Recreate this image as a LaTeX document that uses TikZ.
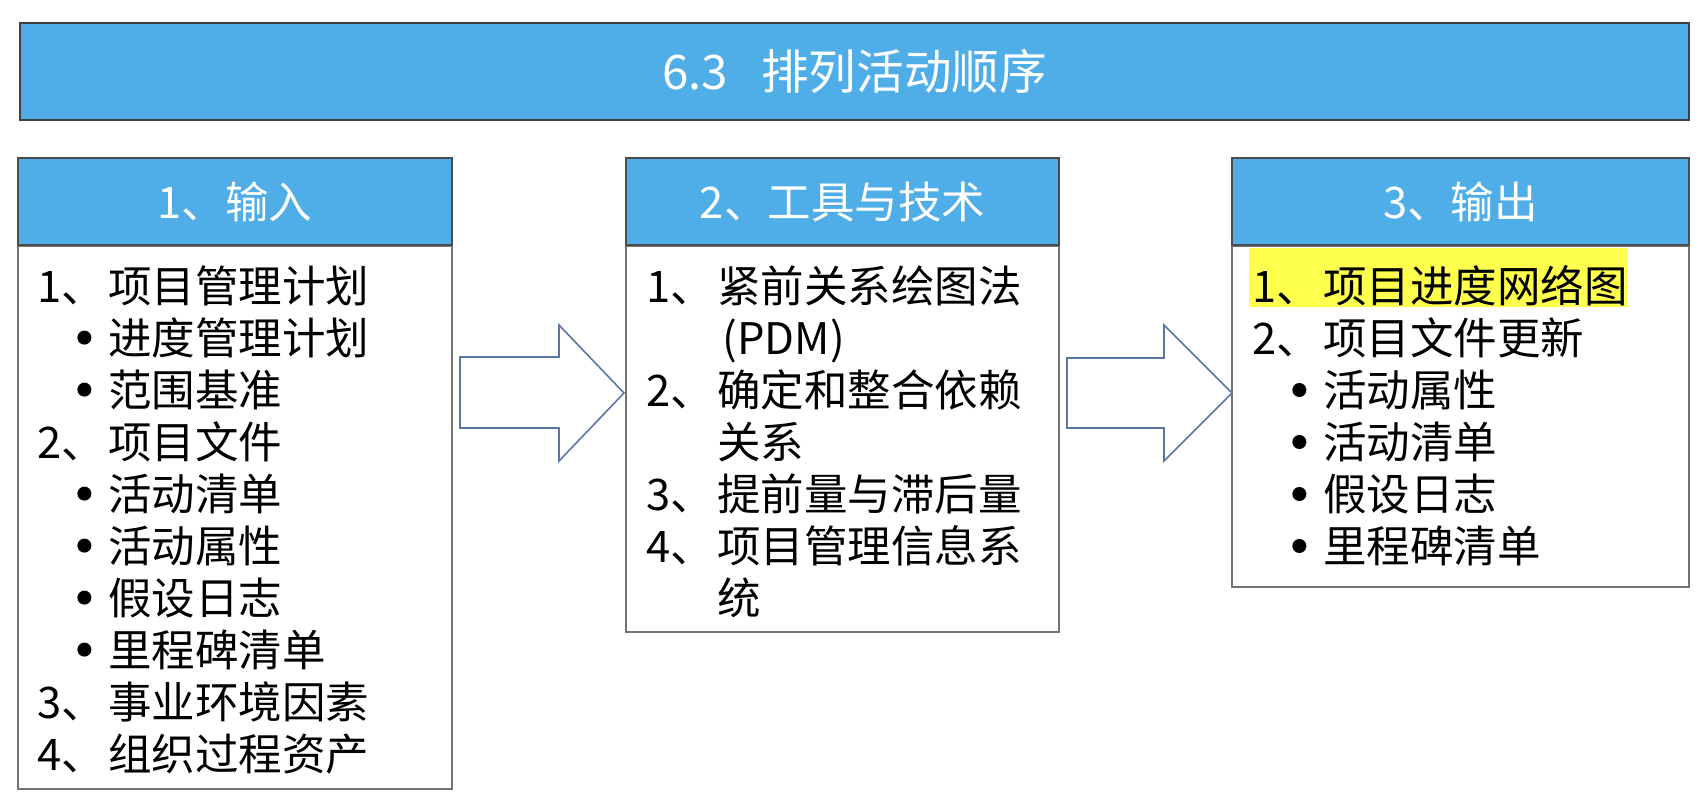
\documentclass[tikz,border=0pt]{standalone}
\usepackage{fontspec}
\setmainfont{Noto Sans CJK SC}
\usetikzlibrary{positioning, calc}
\definecolor{hdblue}{RGB}{79,173,232}
\definecolor{arrblue}{RGB}{90,118,166}
\definecolor{hilite}{RGB}{255,255,77}
\newcommand{\lnum}[1]{\makebox[1.63em][l]{#1、}}
\newcommand{\dotmark}{\raisebox{0.38em}{\tikz[x=1cm,y=1cm,baseline=0pt]\fill (0,0) circle (3.5pt);}}
\newcommand{\itm}{\hspace*{1.08em}\makebox[0pt]{\dotmark}\hspace*{0.55em}}
\newcommand{\hng}{\hspace*{1.63em}}

\begin{document}
\begin{tikzpicture}[x=0.5pt, y=-0.5pt, font=\fontsize{21.75}{26}\selectfont,
    titlebar/.style={rectangle, draw=black!75, line width=1pt, fill=hdblue, text=white, minimum width=834.5pt, minimum height=48.5pt, inner sep=0pt, font=\fontsize{23.8}{28}\selectfont},
    head/.style={rectangle, draw=black!70, line width=1pt, fill=hdblue, text=white, minimum height=43.5pt, inner sep=0pt},
    body/.style={rectangle, draw=black!55, line width=1pt, anchor=north, inner sep=0pt},
    list/.style={anchor=north west, align=left, inner sep=0pt},
    bigarrow/.style={draw=arrblue, line width=0.8pt, fill=white, line join=miter}
]
\useasboundingbox (0,0) rectangle (1704,810);

\node[titlebar] (title) at (854.5,71.5) {6.3\hspace{0.7em}排列活动顺序};

% three columns
\node[body, minimum width=217pt, minimum height=271.5pt] (inbody) at (235,245) {};
\node[head, minimum width=217pt] (inhead) at (235,201.5) {1、输入};
\node[body, minimum width=216.5pt, minimum height=193pt] (toolbody) at (842.5,245) {};
\node[head, minimum width=216.5pt] (toolhead) at (842.5,201.5) {2、工具与技术};
\node[body, minimum width=228.5pt, minimum height=170.5pt] (outbody) at (1460.5,245) {};
\node[head, minimum width=228.5pt] (outhead) at (1460.5,201.5) {3、输出};

\node[list] (intxt) at ($(inbody.north west)+(20,20)$) {%
\lnum{1}项目管理计划\\
\itm 进度管理计划\\
\itm 范围基准\\
\lnum{2}项目文件\\
\itm 活动清单\\
\itm 活动属性\\
\itm 假设日志\\
\itm 里程碑清单\\
\lnum{3}事业环境因素\\
\lnum{4}组织过程资产};

\node[list] (tooltxt) at ($(toolbody.north west)+(21,20)$) {%
\lnum{1}紧前关系绘图法\\
\hspace*{1.75em}(PDM)\\
\lnum{2}确定和整合依赖\\
\hng 关系\\
\lnum{3}提前量与滞后量\\
\lnum{4}项目管理信息系\\
\hng 统};

\fill[hilite] ($(outbody.north west)+(18,3)$) rectangle ++(378,59);
\node[list] (outtxt) at ($(outbody.north west)+(21,20)$) {%
\lnum{1}项目进度网络图\\
\lnum{2}项目文件更新\\
\itm 活动属性\\
\itm 活动清单\\
\itm 假设日志\\
\itm 里程碑清单};

% block arrows
\coordinate (tip1) at ($(toolbody.north west)+(-1,148)$);
\coordinate (tip2) at ($(outbody.north west)+(1,148)$);
\draw[bigarrow] (tip1) -- ++(-65,-68) -- ++(0,32) -- ++(-99,0) -- ++(0,71) -- ++(99,0) -- ++(0,33) -- cycle;
\draw[bigarrow] (tip2) -- ++(-68,-68) -- ++(0,33) -- ++(-97,0) -- ++(0,70) -- ++(97,0) -- ++(0,33) -- cycle;
\end{tikzpicture}
\end{document}
